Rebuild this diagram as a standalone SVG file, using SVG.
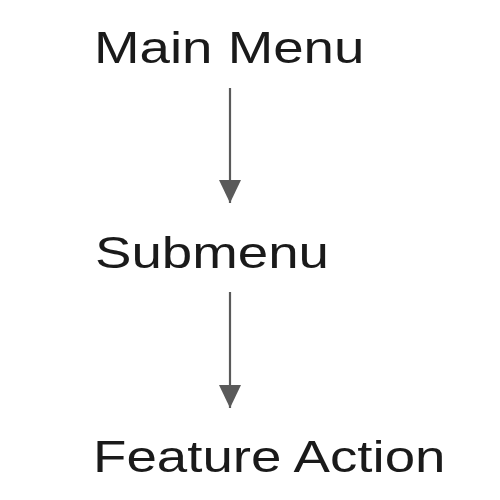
<svg xmlns="http://www.w3.org/2000/svg" width="500" height="500" viewBox="0 0 500 500">
<style>
.lbl{font-family:"Liberation Sans",Arial,sans-serif;font-size:45px;fill:#1a1a1a}
.edge{stroke:#5a5a5a;stroke-width:2.2;fill:none}
</style>
<defs>
<marker id="ah" markerUnits="userSpaceOnUse" markerWidth="24" markerHeight="26" refX="23" refY="12" orient="auto" viewBox="0 0 24 24">
<path d="M0,1 L23,12 L0,23 Z" fill="#5a5a5a"/>
</marker>
</defs>
<rect width="500" height="500" fill="#ffffff"/>
<g id="connectors">
<line class="edge" x1="230" y1="88" x2="230" y2="203" marker-end="url(#ah)"/>
<line class="edge" x1="230" y1="292" x2="230" y2="408" marker-end="url(#ah)"/>
</g>
<g id="main-menu"><text class="lbl" transform="translate(94,63) scale(1.215,1)">Main Menu</text></g>
<g id="submenu"><text class="lbl" transform="translate(95,268) scale(1.215,1)">Submenu</text></g>
<g id="feature-action"><text class="lbl" transform="translate(93,472) scale(1.215,1)">Feature Action</text></g>
</svg>
